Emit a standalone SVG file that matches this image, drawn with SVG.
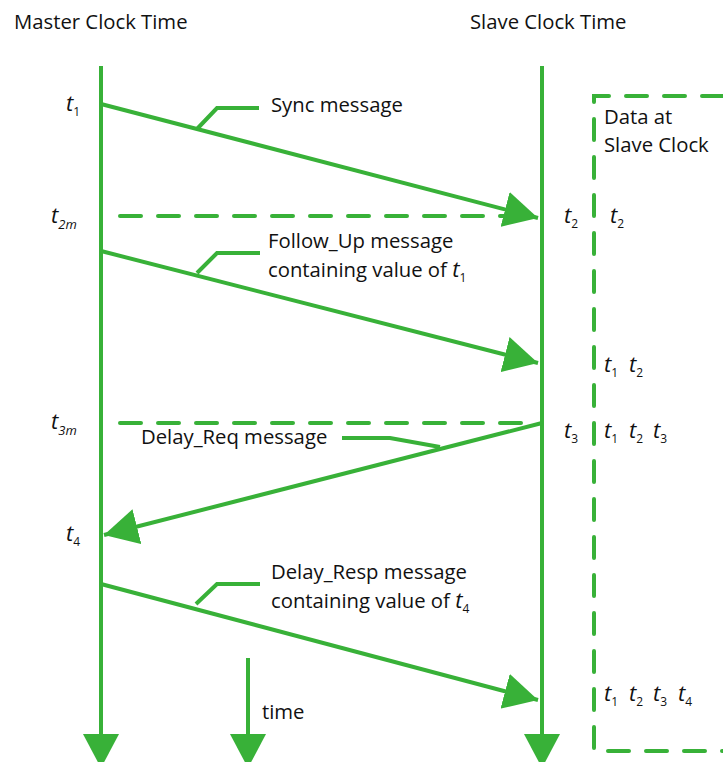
<svg xmlns="http://www.w3.org/2000/svg" width="723" height="762" viewBox="0 0 723 762">
<style>
.ln{stroke:#38b138;stroke-width:4;fill:none;stroke-linecap:butt}
.dash{stroke:#38b138;stroke-width:4;fill:none;stroke-dasharray:21 17;stroke-linecap:round}
.txt{font-family:"Open Sans","Liberation Sans",Arial,sans-serif;font-size:20.3px;fill:#111}
.t{font-family:"Open Sans","Liberation Sans",Arial,sans-serif;font-size:22px;font-style:italic;fill:#111}
.s{font-size:12px;font-style:normal}
.si{font-size:13px;font-style:italic}
</style>
<defs>
<marker id="ah" viewBox="0 0 34 36" refX="34" refY="18" markerWidth="34" markerHeight="36" markerUnits="userSpaceOnUse" orient="auto">
<path d="M0,0 L34,18 L0,36 z" fill="#38b138"/>
</marker>
</defs>
<g id="titles">
<text class="txt" x="14" y="29">Master Clock Time</text>
<text class="txt" x="470" y="29">Slave Clock Time</text>
</g>
<g id="connectors">
<line class="ln" x1="101" y1="66" x2="101" y2="768" marker-end="url(#ah)"/>
<line class="ln" x1="542" y1="66" x2="542" y2="768" marker-end="url(#ah)"/>
<line class="ln" x1="248" y1="658" x2="248" y2="768" marker-end="url(#ah)"/>
<line class="ln" x1="101" y1="104" x2="538" y2="218" marker-end="url(#ah)"/>
<polyline class="ln" points="197,129 217,108 259,108"/>
<line class="dash" x1="120" y1="216" x2="505" y2="216" stroke-dasharray="10 17 21 17"/>
<line class="ln" x1="101" y1="251" x2="538" y2="363" marker-end="url(#ah)"/>
<polyline class="ln" points="197,273 217,253 260,253"/>
<line class="dash" x1="120" y1="423" x2="530" y2="423" stroke-dasharray="10 17 21 17"/>
<line class="ln" x1="542" y1="423" x2="104" y2="535" marker-end="url(#ah)"/>
<polyline class="ln" points="440,447 390,438 342,438"/>
<line class="ln" x1="101" y1="584" x2="538" y2="700" marker-end="url(#ah)"/>
<polyline class="ln" points="196,604 217,584 260,584"/>
</g>
<g id="data-box">
<path class="dash" d="M723,96 L594,96 L594,751 L723,751"/>
<text class="txt" x="604" y="124">Data at</text>
<text class="txt" x="604" y="152">Slave Clock</text>
</g>
<g id="labels">
<text class="txt" x="271" y="112">Sync message</text>
<text class="txt" x="268" y="248">Follow_Up message</text>
<text class="txt" x="268" y="277">containing value of <tspan font-style="italic" font-size="22">t</tspan><tspan class="s" dy="5">1</tspan></text>
<text class="txt" x="141" y="444">Delay_Req message</text>
<text class="txt" x="271" y="579">Delay_Resp message</text>
<text class="txt" x="271" y="608">containing value of <tspan font-style="italic" font-size="22">t</tspan><tspan class="s" dy="5">4</tspan></text>
<text class="txt" x="262" y="719" font-size="17">time</text>
</g>
<g id="master-times">
<text class="t" x="66" y="111">t<tspan class="s" dy="5">1</tspan></text>
<text class="t" x="51" y="223">t<tspan class="si" dy="6">2m</tspan></text>
<text class="t" x="51" y="429">t<tspan class="si" dy="6">3m</tspan></text>
<text class="t" x="66" y="541">t<tspan class="s" dy="5">4</tspan></text>
</g>
<g id="slave-times">
<text class="t" x="564" y="223">t<tspan class="s" dy="5">2</tspan></text>
<text class="t" x="564" y="438">t<tspan class="s" dy="5">3</tspan></text>
<text class="t" x="610" y="223">t<tspan class="s" dy="5">2</tspan></text>
<text class="t" x="604" y="372">t<tspan class="s" dy="5">1</tspan></text>
<text class="t" x="629" y="372">t<tspan class="s" dy="5">2</tspan></text>
<text class="t" x="604" y="438">t<tspan class="s" dy="5">1</tspan></text>
<text class="t" x="629" y="438">t<tspan class="s" dy="5">2</tspan></text>
<text class="t" x="653" y="438">t<tspan class="s" dy="5">3</tspan></text>
<text class="t" x="604" y="701">t<tspan class="s" dy="5">1</tspan></text>
<text class="t" x="629" y="701">t<tspan class="s" dy="5">2</tspan></text>
<text class="t" x="653" y="701">t<tspan class="s" dy="5">3</tspan></text>
<text class="t" x="678" y="701">t<tspan class="s" dy="5">4</tspan></text>
</g>
</svg>
